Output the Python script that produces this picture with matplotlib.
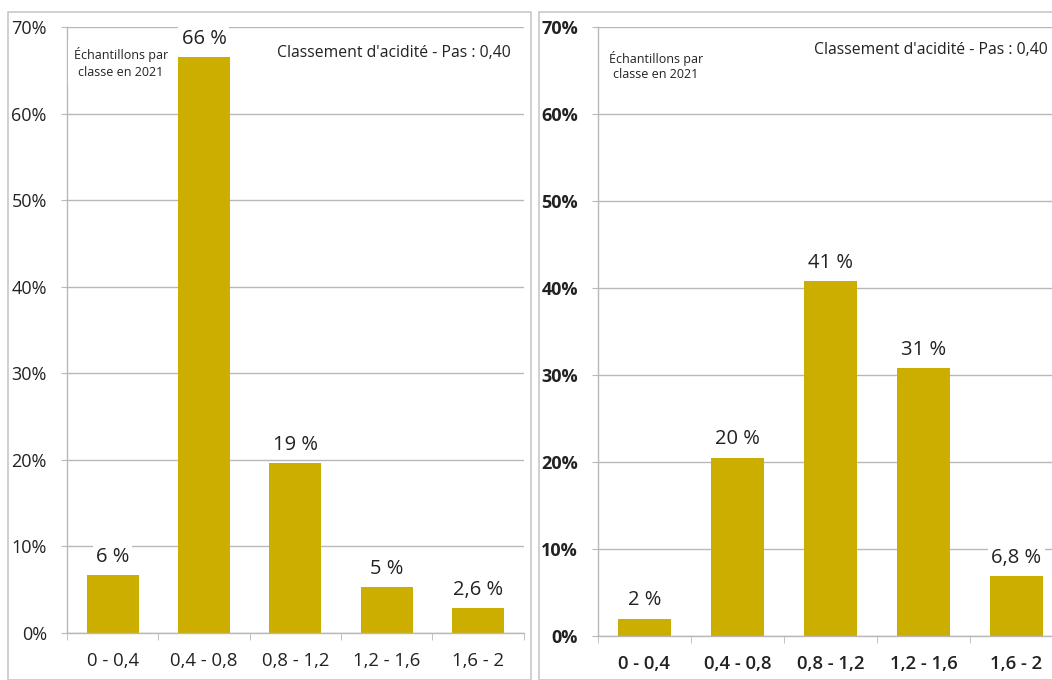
import matplotlib
matplotlib.use("Agg")
import matplotlib.pyplot as plt
from matplotlib.patches import Rectangle

categories = ["0 - 0,4", "0,4 - 0,8", "0,8 - 1,2", "1,2 - 1,6", "1,6 - 2"]
left_values = [6.7, 66.5, 19.6, 5.3, 2.9]
left_labels = ["6 %", "66 %", "19 %", "5 %", "2,6 %"]
right_values = [2.0, 20.5, 40.8, 30.8, 6.9]
right_labels = ["2 %", "20 %", "41 %", "31 %", "6,8 %"]
yticks = [0, 10, 20, 30, 40, 50, 60, 70]
ytick_labels = ["0%", "10%", "20%", "30%", "40%", "50%", "60%", "70%"]
note_text = "Échantillons par\nclasse en 2021"
title_text = "Classement d'acidité - Pas : 0,40"

BAR = "#CCAE00"
GRID = "#B8B8B8"
FONT = "Open Sans"

fig = plt.figure(figsize=(10.52, 6.80), dpi=100)
W, H = 1052, 680

# panel frames
fig.add_artist(Rectangle((8 / W, 0), (531 - 8) / W, (H - 12) / H, transform=fig.transFigure,
                         fill=False, edgecolor="#C8C8C8", linewidth=1.2))
fig.add_artist(Rectangle((539 / W, 0), (1060 - 539) / W, (H - 12) / H, transform=fig.transFigure,
                         fill=False, edgecolor="#C8C8C8", linewidth=1.2))


def panel(rect, values, labels, bold, note_xy, title_xy):
    ax = fig.add_axes(rect)
    x = list(range(len(categories)))
    ax.bar(x, values, width=0.57, color=BAR, zorder=2)
    ax.set_xlim(-0.5, len(categories) - 0.5)
    ax.set_ylim(0, 70)
    ax.set_yticks(yticks)
    ax.set_yticklabels(ytick_labels, fontsize=13, family=FONT,
                       fontweight="bold" if bold else "normal", color="#222222")
    ax.set_xticks(x)
    ax.set_xticklabels(categories, fontsize=13.3, family=FONT,
                       fontweight="semibold" if bold else "normal", color="#222222")
    ax.set_xticks([i - 0.5 for i in range(len(categories) + 1)], minor=True)
    ax.tick_params(axis="x", which="major", length=0, pad=14)
    ax.tick_params(axis="x", which="minor", length=5, color=GRID, direction="out")
    ax.tick_params(axis="y", length=4.5, color=GRID, pad=10)
    ax.grid(axis="y", color=GRID, linewidth=1, zorder=0)
    for s in ["top", "right"]:
        ax.spines[s].set_visible(False)
    for s in ["left", "bottom"]:
        ax.spines[s].set_color(GRID)
        ax.spines[s].set_linewidth(1)
    for xi, v, lab in zip(x, values, labels):
        ax.annotate(lab, (xi, v), xytext=(0, 6), textcoords="offset points",
                    ha="center", va="bottom", fontsize=14.5, family=FONT, color="#222222",
                    bbox=dict(boxstyle="square,pad=0.15", fc="white", ec="none"), zorder=3)
    ax.text(note_xy[0], note_xy[1], note_text, transform=fig.transFigure, ha="center", va="center",
            fontsize=9, family=FONT, color="#222222", linespacing=1.3,
            bbox=dict(boxstyle="square,pad=0.5", fc="white", ec="none"), zorder=4)
    ax.text(title_xy[0], title_xy[1], title_text, transform=fig.transFigure, ha="center", va="center",
            fontsize=11.3, family=FONT, color="#222222",
            bbox=dict(boxstyle="square,pad=0.5", fc="white", ec="none"), zorder=4)
    return ax


panel([67 / W, 1 - 633 / H, (523.5 - 67) / W, (633 - 27) / H], left_values, left_labels, False,
      (121 / W, 1 - 63 / H), (394 / W, 1 - 53 / H))
panel([598 / W, 1 - 636 / H, (1063 - 598) / W, (636 - 27) / H], right_values, right_labels, True,
      (656 / W, 1 - 66 / H), (931 / W, 1 - 50 / H))

fig.savefig("out.png", dpi=100)
